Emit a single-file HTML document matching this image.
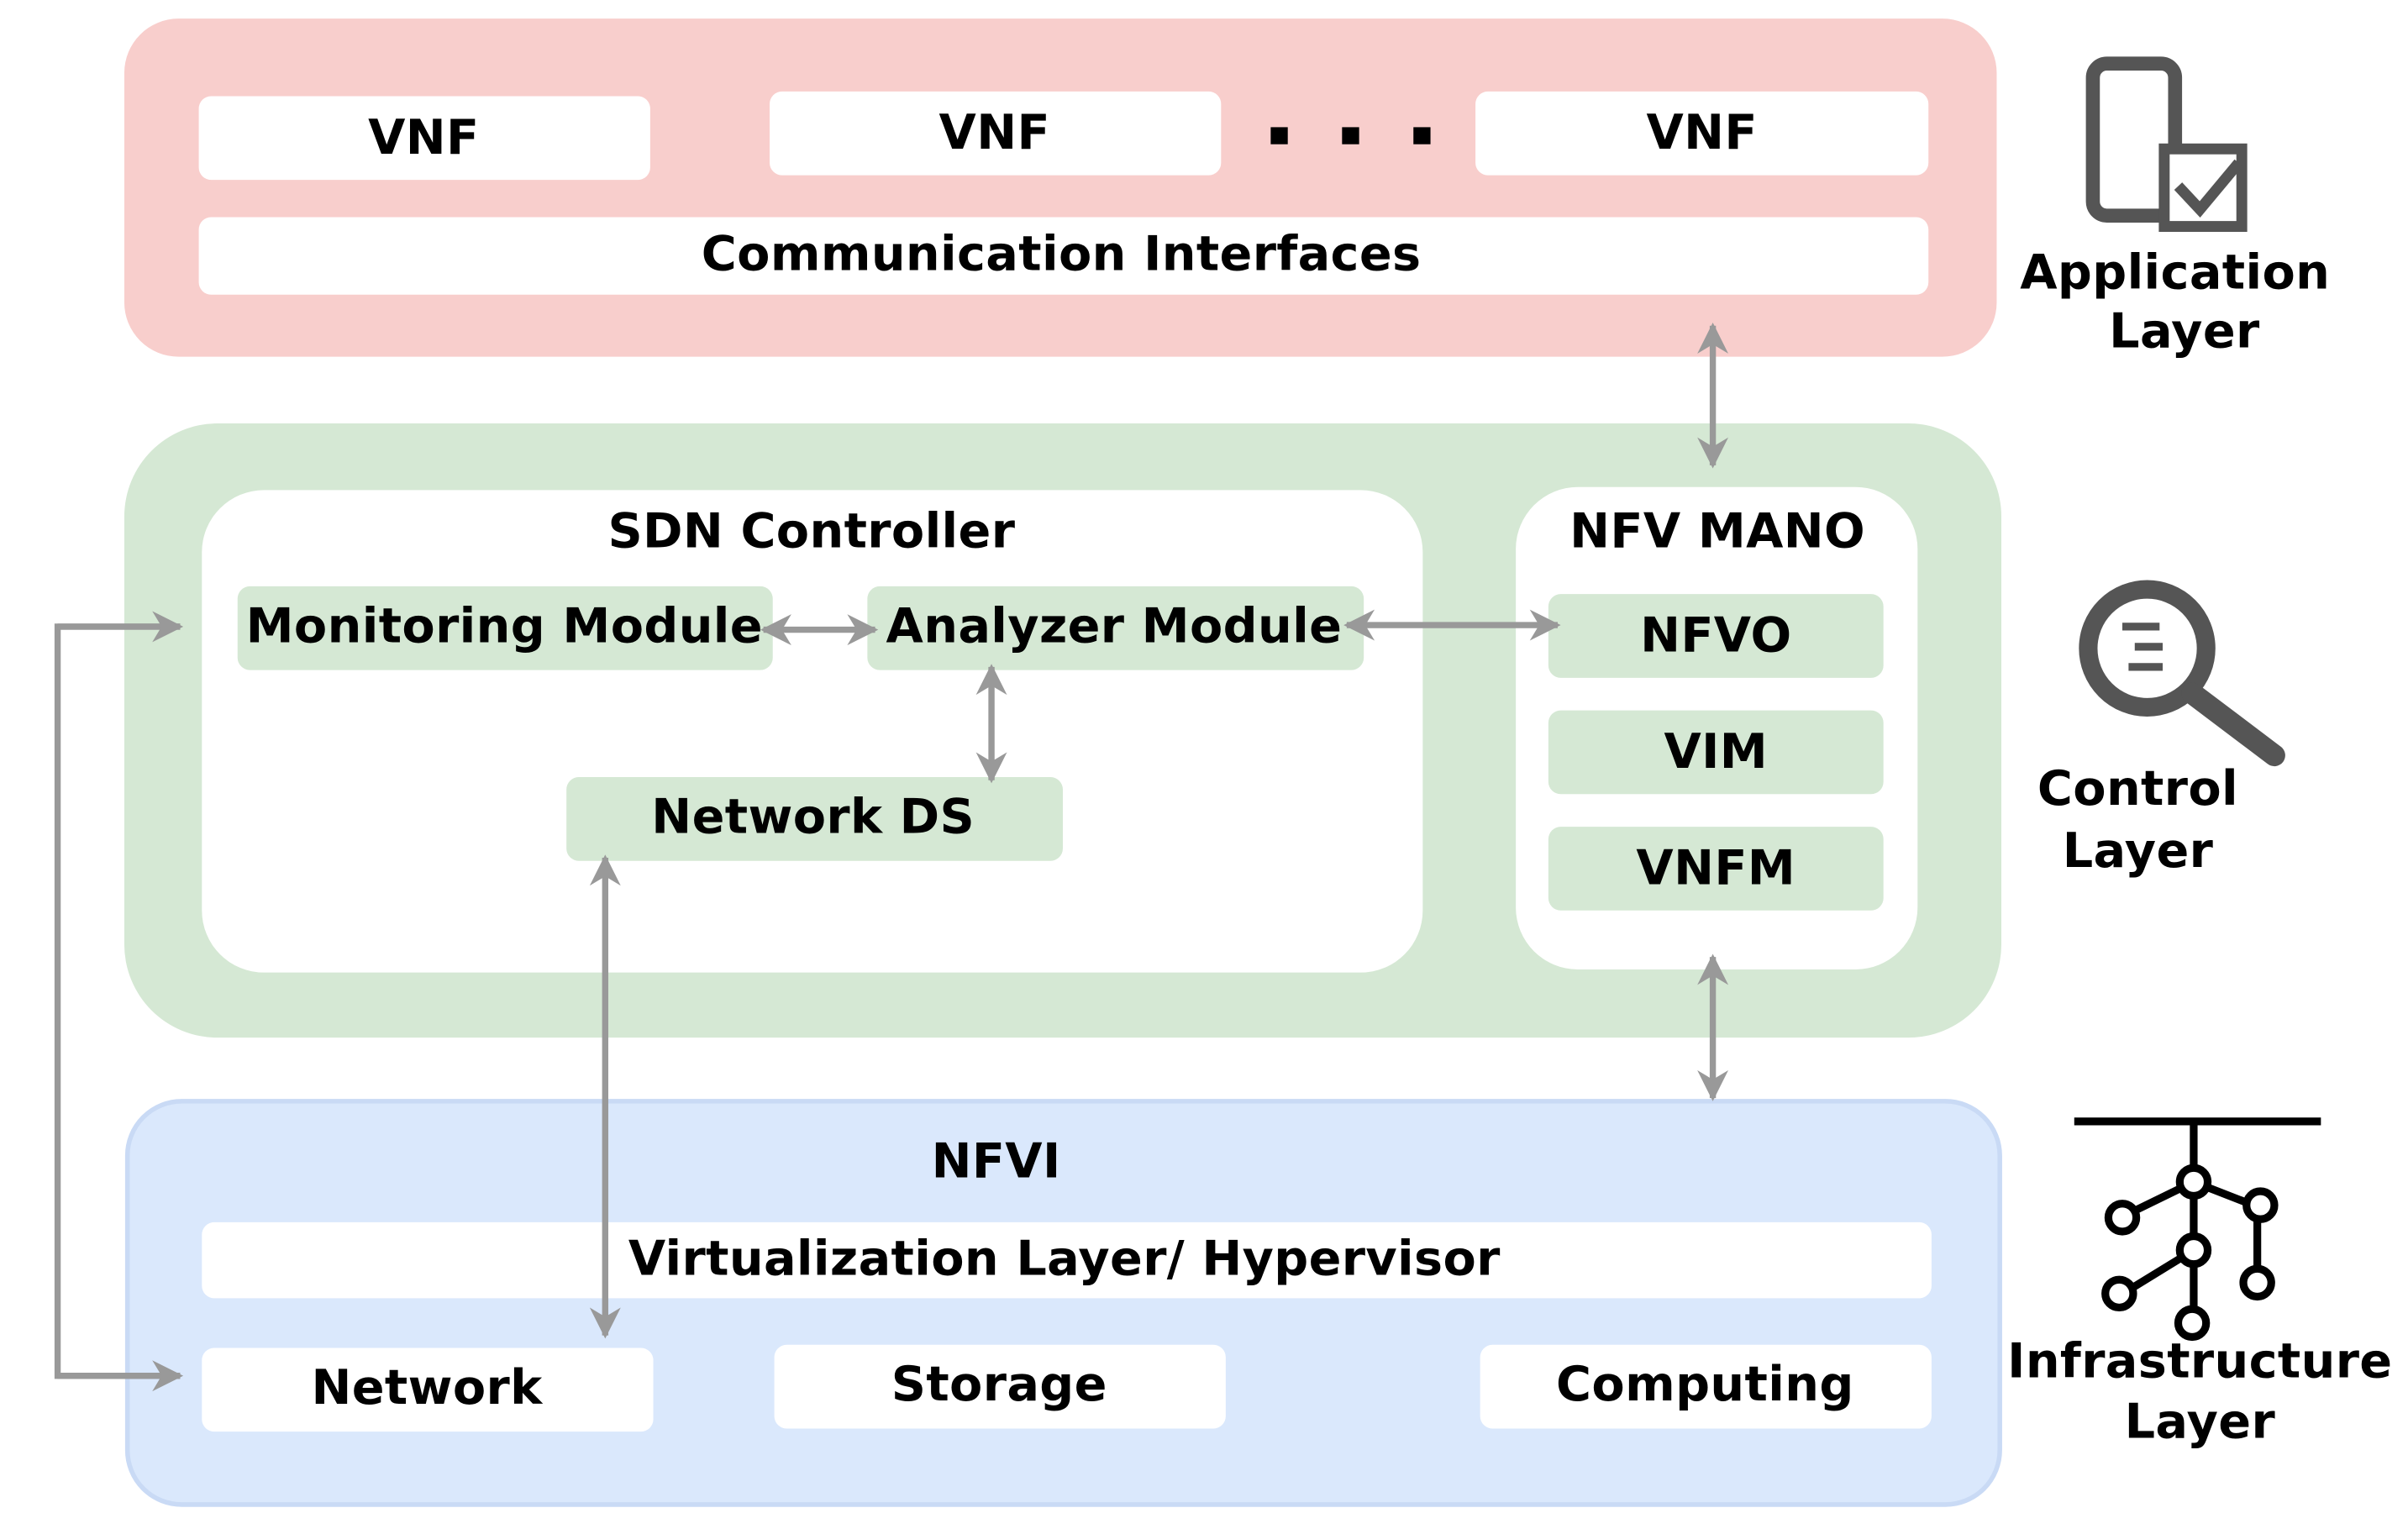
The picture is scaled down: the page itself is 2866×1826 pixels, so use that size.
<!DOCTYPE html>
<html><head><meta charset="utf-8"><style>
html,body{margin:0;padding:0;background:#fff;}
svg{display:block;}
text{font-family:"DejaVu Sans","Liberation Sans",sans-serif;font-weight:bold;fill:#000;letter-spacing:0.2px;}
</style></head><body>
<svg width="2866" height="1826" viewBox="0 0 1552 989" xmlns="http://www.w3.org/2000/svg">
<defs>
<marker id="a" viewBox="0 0 10 10" refX="9" refY="5" markerWidth="5" markerHeight="5" orient="auto-start-reverse" markerUnits="strokeWidth">
<path d="M0,0 L10,5 L0,10 L3,5 z" fill="#999"/></marker>
</defs>
<rect x="80" y="12" width="1207" height="218" rx="35" fill="#f8cecc"/>
<rect x="128" y="62" width="291" height="54" rx="8" fill="#fff"/>
<rect x="496" y="59" width="291" height="54" rx="8" fill="#fff"/>
<rect x="951" y="59" width="292" height="54" rx="8" fill="#fff"/>
<g font-size="31" text-anchor="middle">
<text x="273" y="99">VNF</text><text x="641" y="96">VNF</text><text x="1097" y="96">VNF</text></g>
<rect x="819" y="82" width="11" height="11" fill="#000"/>
<rect x="865" y="82" width="11" height="11" fill="#000"/>
<rect x="911" y="82" width="11" height="11" fill="#000"/>
<rect x="128" y="140" width="1115" height="50" rx="8" fill="#fff"/>
<text x="684" y="174" font-size="31" text-anchor="middle">Communication Interfaces</text>
<rect x="80" y="273" width="1210" height="396" rx="60" fill="#d5e8d4"/>
<rect x="130" y="316" width="787" height="311" rx="40" fill="#fff"/>
<text x="523" y="353" font-size="31" text-anchor="middle">SDN Controller</text>
<rect x="153" y="378" width="345" height="54" rx="8" fill="#d5e8d4"/>
<rect x="559" y="378" width="320" height="54" rx="8" fill="#d5e8d4"/>
<rect x="365" y="501" width="320" height="54" rx="8" fill="#d5e8d4"/>
<g font-size="31" text-anchor="middle">
<text x="325" y="414">Monitoring Module</text>
<text x="718" y="414">Analyzer Module</text>
<text x="524" y="537">Network DS</text></g>
<rect x="977" y="314" width="259" height="311" rx="40" fill="#fff"/>
<text x="1107" y="353" font-size="31" text-anchor="middle">NFV MANO</text>
<rect x="998" y="383" width="216" height="54" rx="8" fill="#d5e8d4"/>
<rect x="998" y="458" width="216" height="54" rx="8" fill="#d5e8d4"/>
<rect x="998" y="533" width="216" height="54" rx="8" fill="#d5e8d4"/>
<g font-size="31" text-anchor="middle">
<text x="1106" y="420">NFVO</text><text x="1106" y="495">VIM</text><text x="1106" y="570">VNFM</text></g>
<rect x="82" y="710" width="1207" height="260" rx="35" fill="#dae8fc" stroke="#c9daf5" stroke-width="3"/>
<text x="642" y="759" font-size="31" text-anchor="middle">NFVI</text>
<rect x="130" y="788" width="1115" height="49" rx="8" fill="#fff"/>
<rect x="130" y="869" width="291" height="54" rx="8" fill="#fff"/>
<rect x="499" y="867" width="291" height="54" rx="8" fill="#fff"/>
<rect x="954" y="867" width="291" height="54" rx="8" fill="#fff"/>
<g font-size="31" text-anchor="middle">
<text x="686" y="822">Virtualization Layer/ Hypervisor</text>
<text x="275" y="905">Network</text><text x="644" y="903">Storage</text><text x="1099" y="903">Computing</text></g>
<g stroke="#999" stroke-width="4" fill="none">
<line x1="1104" y1="210" x2="1104" y2="300" marker-start="url(#a)" marker-end="url(#a)"/>
<line x1="1104" y1="617" x2="1104" y2="708" marker-start="url(#a)" marker-end="url(#a)"/>
<line x1="492" y1="406" x2="564" y2="406" marker-start="url(#a)" marker-end="url(#a)"/>
<line x1="868" y1="403" x2="1004" y2="403" marker-start="url(#a)" marker-end="url(#a)"/>
<line x1="639" y1="430" x2="639" y2="503" marker-start="url(#a)" marker-end="url(#a)"/>
<line x1="390" y1="553" x2="390" y2="861" marker-start="url(#a)" marker-end="url(#a)"/>
<polyline points="116,404 37,404 37,887 116,887"/>
<line x1="37" y1="404" x2="116" y2="404" marker-end="url(#a)"/>
<line x1="37" y1="887" x2="116" y2="887" marker-end="url(#a)"/>
</g>
<g fill="none" stroke="#555" stroke-width="9">
<rect x="1349" y="41" width="53" height="98" rx="9"/>
</g>
<rect x="1362" y="53" width="28" height="72" fill="#fff"/>
<rect x="1395" y="96" width="50" height="50" fill="#fff" stroke="#555" stroke-width="7"/>
<polyline points="1404,120 1418,135 1443,105" fill="none" stroke="#555" stroke-width="7"/>
<g font-size="31" text-anchor="middle">
<text x="1402" y="186">Application</text><text x="1408" y="224">Layer</text></g>
<circle cx="1384" cy="418" r="38" fill="none" stroke="#555" stroke-width="12"/>
<line x1="1413" y1="447" x2="1466" y2="487" stroke="#555" stroke-width="14" stroke-linecap="round"/>
<g stroke="#555" stroke-width="5"><line x1="1368" y1="404" x2="1392" y2="404"/><line x1="1376" y1="417" x2="1394" y2="417"/><line x1="1372" y1="430" x2="1394" y2="430"/></g>
<g font-size="31" text-anchor="middle">
<text x="1378" y="519">Control</text><text x="1378" y="559">Layer</text></g>
<g stroke="#000" stroke-width="5" fill="none">
<line x1="1337" y1="723" x2="1496" y2="723"/>
<line x1="1414" y1="723" x2="1414" y2="843"/>
<line x1="1414" y1="762" x2="1371" y2="783"/>
<line x1="1414" y1="762" x2="1455" y2="778"/>
<line x1="1414" y1="806" x2="1370" y2="833"/>
<line x1="1455" y1="778" x2="1455" y2="826"/>
<circle cx="1414" cy="762" r="9" fill="#fff"/>
<circle cx="1368" cy="785" r="9" fill="#fff"/>
<circle cx="1457" cy="777" r="9" fill="#fff"/>
<circle cx="1414" cy="806" r="9" fill="#fff"/>
<circle cx="1366" cy="834" r="9" fill="#fff"/>
<circle cx="1455" cy="827" r="9" fill="#fff"/>
<circle cx="1413" cy="853" r="9" fill="#fff"/>
</g>
<g font-size="31" text-anchor="middle">
<text x="1418" y="888">Infrastructure</text><text x="1418" y="927">Layer</text></g>
</svg>
</body></html>
